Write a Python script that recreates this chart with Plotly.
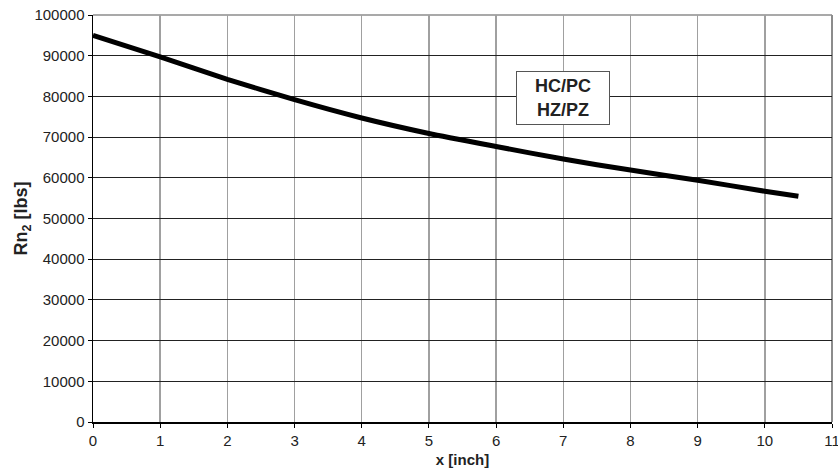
import plotly.graph_objects as go

x_inch = [0, 1, 2, 3, 4, 5, 6, 7, 8, 9, 10, 10.5]
rn2_lbs = [95000, 89700, 84200, 79200, 74700, 70900, 67700, 64600, 61900, 59400, 56700, 55450]
x_ticks = list(range(0, 12))
y_ticks = list(range(0, 100001, 10000))
label_text = "HC/PC<br>HZ/PZ"

FONT = "Liberation Sans, Arial, sans-serif"

fig = go.Figure()
fig.add_trace(go.Scatter(
    x=x_inch, y=rn2_lbs, mode="lines",
    line=dict(color="black", width=5, shape="spline", smoothing=0.6),
    showlegend=False, hoverinfo="skip",
))

# grey top/right frame
fig.add_shape(type="line", xref="paper", yref="paper", x0=0, x1=1, y0=1, y1=1,
              line=dict(color="#8c8c8c", width=1.5), layer="below")
fig.add_shape(type="line", xref="paper", yref="paper", x0=1, x1=1, y0=0, y1=1,
              line=dict(color="#8c8c8c", width=2), layer="below")

fig.add_annotation(
    x=7, y=79500, xref="x", yref="y", text=label_text, showarrow=False,
    font=dict(family=FONT, size=18, color="#222222", weight="bold"),
    bordercolor="#555555", borderwidth=1, bgcolor="white",
    borderpad=5, width=82, height=42, align="center",
)

fig.update_layout(
    width=838, height=474,
    margin=dict(l=93, r=6, t=15, b=52),
    paper_bgcolor="white", plot_bgcolor="white",
    font=dict(family=FONT, size=15, color="#222222"),
    xaxis=dict(
        range=[0, 11], tickvals=x_ticks, ticktext=[str(v) for v in x_ticks],
        automargin=False, ticklabeloverflow="allow",
        showgrid=True, gridcolor="#a0a0a0", gridwidth=1.5,
        showline=True, linecolor="black", linewidth=1.5,
        ticks="outside", ticklen=4, tickcolor="black",
        zeroline=False,
        title=dict(text="<b>x [inch]</b>", font=dict(size=15), standoff=7),
    ),
    yaxis=dict(
        range=[0, 100000], tickvals=y_ticks, ticktext=[str(v) for v in y_ticks],
        automargin=False, ticklabeloverflow="allow",
        showgrid=True, gridcolor="#222222", gridwidth=1,
        showline=True, linecolor="black", linewidth=1.5,
        ticks="outside", ticklen=4, tickcolor="black",
        zeroline=False,
        title=dict(text="<b>Rn<sub>2</sub> [lbs]</b>", font=dict(size=18), standoff=2),
    ),
)

# remove the page's default 8px body margin so the figure sits at the window origin
fig.write_html("out.html", config={"displayModeBar": False, "staticPlot": True},
               post_script="document.body.style.margin='0';")
